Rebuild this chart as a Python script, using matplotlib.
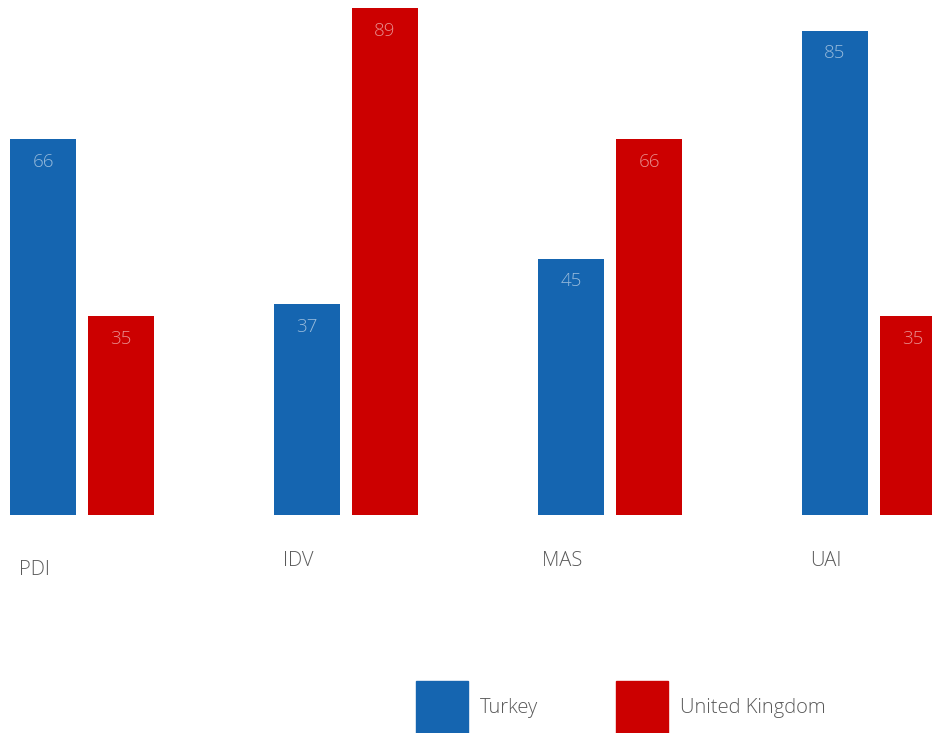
import matplotlib.pyplot as plt
import matplotlib.patches as patches
import numpy as np

categories = ["PDI", "IDV", "MAS", "UAI"]
turkey = [66, 37, 45, 85]
uk = [35, 89, 66, 35]
series_names = ["Turkey", "United Kingdom"]
colors = ["#1565b0", "#cc0000"]

plt.rcParams['font.family'] = ['Open Sans', 'DejaVu Sans']

W, H = 932, 733
fig = plt.figure(figsize=(W / 100, H / 100), dpi=100)

# axes: baseline at 515 px from top, 5.70 px per unit
base = 515
ppu = 5.70
ax = fig.add_axes([0, (H - base) / H, 1, base / H])
ax.set_ylim(0, base / ppu)
group_px = 264
center0 = 82
ax.set_xlim(-center0 / group_px, (W - center0) / group_px)
ax.axis('off')

x = np.arange(len(categories))
bw = 66 / group_px
off = 39 / group_px

for vals, sign, c in [(turkey, -1, colors[0]), (uk, 1, colors[1])]:
    bars = ax.bar(x + sign * off, vals, width=bw, color=c)
    for b, v in zip(bars, vals):
        ax.text(b.get_x() + b.get_width() / 2, v - 23 / ppu, str(v),
                ha='center', va='center', color='white', alpha=0.55,
                fontsize=13.5, fontweight='light')

# category labels
label_dy = [-55, -46, -46, -46]
for i, (cat, dy) in enumerate(zip(categories, label_dy)):
    ax.text(i - off - 9 / group_px, dy / ppu, cat, ha='center', va='center',
            color='#5a5a5a', fontsize=14.5, fontweight='light', clip_on=False)

# legend
for name, c, px in zip(series_names, colors, [416, 616]):
    fig.add_artist(patches.Rectangle((px / W, 1 - 733 / H), 52 / W, 52 / H,
                                     transform=fig.transFigure, color=c))
    fig.text((px + 64) / W, 1 - 708 / H, name, ha='left', va='center',
             color='#5a5a5a', fontsize=14.5, fontweight='light')

fig.savefig("out.png", dpi=100)
